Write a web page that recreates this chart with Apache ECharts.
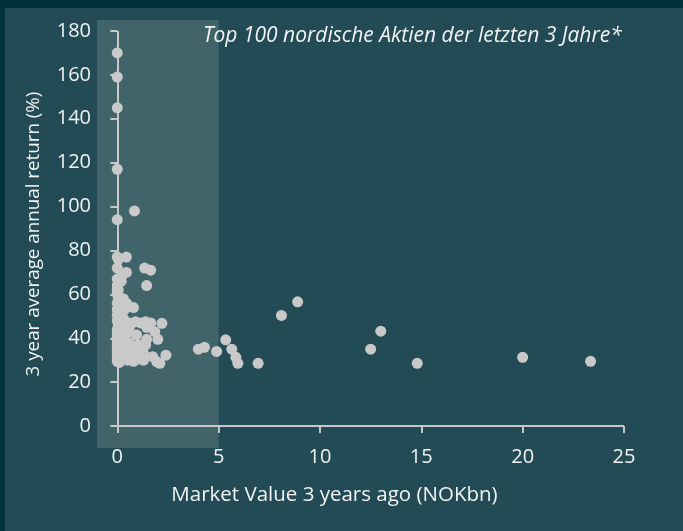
<!DOCTYPE html>
<html>
<head>
<meta charset="utf-8">
<script src="https://cdn.jsdelivr.net/npm/echarts@6/dist/echarts.min.js"></script>
<style>
  html, body { margin: 0; padding: 0; background: #01313c; }
  #chart { position: absolute; left: 5px; top: 8px; width: 678px; height: 523px; background: #224b55; }
</style>
</head>
<body>
<div id="chart"></div>
<script>
// market value 3 years ago (NOKbn) and 3 year avg annual return (%)
var marketValue = [
  0.0, 0.0, 0.0, 0.0, 0.0, 0.85, 0.0, 0.05, 0.45, 1.35,
  1.65, 1.45, 0.45, 0.25, 0.0, 0.0, 0.0, 0.0, 0.05, 0.3,
  0.45, 0.8, 0.0, 0.1, 0.3, 0.0, 0.3, 0.9, 1.15, 1.4,
  1.65, 2.2, 1.45, 0.05, 0.0, 1.85, 0.95, 0.3, 0.0, 0.0,
  0.3, 2.0, 1.45, 1.4, 1.05, 0.0, 0.3, 0.2, 0.0, 0.95,
  0.4, 0.0, 0.0, 1.3, 2.4, 0.4, 0.9, 1.75, 1.3, 0.0,
  0.0, 0.1, 0.8, 1.95, 2.1, 0.5, 0.15, 0.6, 0.2, 0.15,
  0.0, 0.1, 0.25, 0.6, 0.05, 0.0, 4.0, 4.3, 4.9, 5.35,
  5.65, 5.85, 5.95, 6.95, 8.1, 8.9, 12.5, 13.0, 14.8, 20.0,
  23.35, 0.0, 0.5, 0.7, 0.1, 0.35, 0.0, 0.2, 1.1, 0.6
];
var annualReturn = [
  170, 159, 145, 117, 94, 98, 77, 76, 77, 72,
  71, 64, 70, 69, 67, 64, 62, 60, 58, 58,
  56, 54, 53, 50, 49, 56, 47, 47.5, 47, 47.5,
  47, 46.8, 45, 46, 44, 43, 41.5, 41.5, 42, 40.5,
  40, 39.5, 39.5, 37, 37, 37, 37, 36, 35, 35.5,
  34, 34, 32.5, 33, 32.3, 31.6, 31.6, 31.6, 30, 31,
  29.5, 29, 29.5, 29.3, 28.6, 30, 33, 38, 44, 52,
  48, 39, 31, 45, 62, 38.5, 35, 35.9, 34, 39.3,
  35, 31.3, 28.6, 28.6, 50.4, 56.6, 35, 43.2, 28.6, 31.3,
  29.5, 50.5, 42.5, 35, 57, 53, 72, 66, 30.5, 47
];
var xTicks = [0, 5, 10, 15, 20, 25];
var yTicks = [0, 20, 40, 60, 80, 100, 120, 140, 160, 180];
// shaded small-cap band
var bandX = [-1, 5];
var bandY = [-10, 185];

var points = marketValue.map(function (v, i) { return [v, annualReturn[i]]; });

var textColor = '#f2f2f2';
var lineColor = '#c8c8c8';
var font = 'Open Sans';

var chart = echarts.init(document.getElementById('chart'), null, { width: 678, height: 523 });
chart.setOption({
  animation: false,
  title: {
    text: 'Top 100 nordische Aktien der letzten 3 Jahre*',
    left: 193, top: 13,
    textStyle: { color: textColor, fontSize: 21, fontStyle: 'italic', fontWeight: 'normal', fontFamily: font }
  },
  grid: { left: 92, right: 59, top: 12, bottom: 83, containLabel: false, outerBoundsMode: 'none' },
  xAxis: {
    type: 'value',
    min: bandX[0], max: 25, z: 3,
    name: 'Market Value 3 years ago (NOKbn)',
    nameLocation: 'middle', nameGap: 37,
    nameTextStyle: { color: textColor, fontSize: 20.5, fontFamily: font, padding: [0, 52, 0, 0] },
    axisLine: { show: false, onZero: true },
    axisTick: { show: true, length: 7, customValues: xTicks, lineStyle: { color: lineColor, width: 2 } },
    axisLabel: { customValues: xTicks, color: textColor, fontSize: 20, fontFamily: font, margin: -1 },
    splitLine: { show: false }
  },
  yAxis: {
    type: 'value',
    min: bandY[0], max: bandY[1], z: 3,
    name: '3 year average annual return (%)',
    nameLocation: 'middle', nameGap: 54,
    nameTextStyle: { color: textColor, fontSize: 18.8, fontFamily: font },
    axisLine: { show: false, onZero: true },
    axisTick: { show: true, length: 7, customValues: yTicks, lineStyle: { color: lineColor, width: 2 } },
    axisLabel: { customValues: yTicks, color: textColor, fontSize: 20, fontFamily: font, margin: 6 },
    splitLine: { show: false }
  },
  series: [
    {
      type: 'scatter', data: [], z: 1, silent: true, clip: false,
      markArea: {
        silent: true,
        itemStyle: { color: '#41646a' },
        data: [[{ xAxis: bandX[0], yAxis: bandY[0] }, { xAxis: bandX[1], yAxis: bandY[1] }]]
      },
      markLine: {
        silent: true, symbol: 'none', label: { show: false },
        lineStyle: { color: lineColor, width: 2, type: 'solid' },
        data: [
          [{ coord: [0, 0] }, { coord: [xTicks[xTicks.length - 1], 0] }],
          [{ coord: [0, 0] }, { coord: [0, yTicks[yTicks.length - 1]] }]
        ]
      }
    },
    {
      type: 'scatter', z: 5, clip: false,
      symbolSize: 11,
      itemStyle: { color: '#c9c9c9', opacity: 1 },
      data: points
    }
  ]
});
</script>
</body>
</html>
